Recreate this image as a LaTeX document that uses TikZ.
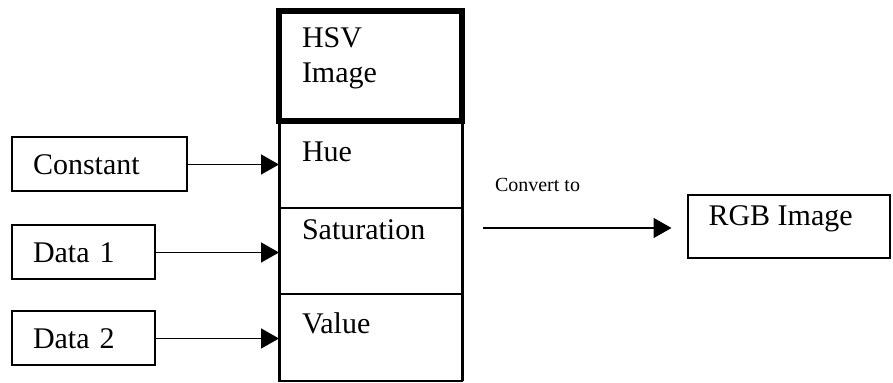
\documentclass[tikz,border=0pt]{standalone}
\usepackage{fontspec}
\setmainfont{Liberation Serif}
\usetikzlibrary{positioning,arrows.meta}

\begin{document}
\begin{tikzpicture}[
    x=0.5pt,y=-0.5pt,
    every node/.style={outer sep=0pt},
    hsvbox/.style={rectangle,draw,line width=3pt,minimum width=91.5pt,minimum height=55pt},
    cell/.style={rectangle,draw,line width=1pt,minimum width=91.5pt,minimum height=43.3pt},
    rgbbox/.style={rectangle,draw,line width=1pt,minimum width=101pt,minimum height=31.5pt},
    srcbox/.style={rectangle,draw,line width=1pt,minimum height=27pt,inner xsep=10.5pt,
        text width=#1,align=left,font=\fontsize{15}{17.5}\selectfont},
    lbl/.style={inner sep=0pt,align=left,font=\fontsize{15}{17.5}\selectfont},
    note/.style={inner sep=0pt,font=\fontsize{10}{12}\selectfont},
    feed/.style={line width=0.75pt,-{Triangle[length=9pt,width=10pt]}}
    ]
    \useasboundingbox (0,0) rectangle (893,383);
    % input boxes
    \node[srcbox=66.5pt](const) at (99.5,164.5){Constant};
    \node[srcbox=50.5pt](data1) at (83.5,252.5){Data 1};
    \node[srcbox=50.5pt,below=16pt of data1](data2){Data 2};
    % HSV stack
    \node[hsvbox](hsv) at (370.5,66){};
    \node[cell,below=0pt of hsv](hue){};
    \node[cell,below=0pt of hue](sat){};
    \node[cell,below=0pt of sat](val){};
    \draw[line width=1.5pt] (hue.north west) -- (val.south west);
    \draw[line width=1.5pt] (hue.north east) -- (val.south east);
    \node[lbl,below right=8.5pt and 11.5pt of hsv.north west](hsvtxt){HSV\\Image};
    \node[lbl,below right=10.5pt and 11.5pt of hue.north west](huetxt){Hue};
    \node[lbl,below right=6pt and 11.5pt of sat.north west](sattxt){Saturation};
    \node[lbl,below right=9pt and 11.5pt of val.north west](valtxt){Value};
    % output
    \node[rgbbox](rgb) at (788.5,226.5){};
    \node[lbl,below right=5.5pt and 10.5pt of rgb.north west](rgbtxt){RGB Image};
    \coordinate(convfrom) at (483,228);
    \node[note,anchor=base west](convtxt) at (495,192){Convert to};
    \draw[feed] (const.east) -- (const.east -| hue.west);
    \draw[feed] (data1.east) -- (data1.east -| sat.west);
    \draw[feed] (data2.east) -- (data2.east -| val.west);
    \draw[feed,shorten >=8pt] (convfrom) -- (convfrom -| rgb.west);
  \end{tikzpicture}
\end{document}
